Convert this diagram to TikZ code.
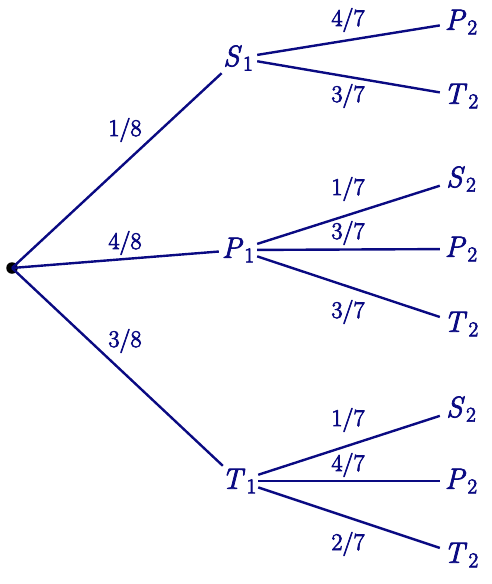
\documentclass[tikz,border=0pt]{standalone}
\definecolor{tree}{RGB}{10,10,130}
\newcommand\heavytext[1]{\special{pdf:literal direct 2 Tr 0.7 w}#1\special{pdf:literal direct 0 Tr}}
\newcommand\evt[2]{\heavytext{\itshape #1\/\kern1.5pt\raisebox{-4.5pt}{\upshape\fontsize{21}{21}\selectfont #2}}}
\newcommand\prb[1]{\heavytext{#1}}
\begin{document}
\begin{tikzpicture}[x=1pt,y=-1pt,
  st/.style={inner sep=0pt, minimum width=38pt, minimum height=30pt, text=tree, font=\fontsize{29.5}{32}\selectfont},
  lf/.style={st, minimum width=42pt},
  pr/.style={inner sep=0pt, text=tree, font=\fontsize{24}{27}\selectfont},
  br/.style={draw=tree, line width=2.4pt}]
\useasboundingbox (0,0) rectangle (492,584);
\node[circle, fill=black, inner sep=0pt, minimum size=11.5pt] (r) at (12,268) {};
\node[st] (S1) at (238,58) {\evt{S}{1}};
\node[st] (P1) at (238,250) {\evt{P}{1}};
\node[st] (T1) at (239,481) {\evt{T}{1}};
\node[lf] (a1) at (461,22) {\evt{P}{2}};
\node[lf] (a2) at (461,96) {\evt{T}{2}};
\node[lf] (b1) at (461,179) {\evt{S}{2}};
\node[lf] (b2) at (461,249) {\evt{P}{2}};
\node[lf] (b3) at (461,324) {\evt{T}{2}};
\node[lf] (c1) at (461,409) {\evt{S}{2}};
\node[lf] (c2) at (461,481) {\evt{P}{2}};
\node[lf] (c3) at (461,555) {\evt{T}{2}};
\draw[br] (r.center) -- (S1);
\draw[br] (r.center) -- (P1);
\draw[br] (r.center) -- (T1);
\draw[br] (S1) -- (a1);
\draw[br] (S1) -- (a2);
\draw[br] (P1) -- (b1);
\draw[br] (P1) -- (b2);
\draw[br] (P1) -- (b3);
\draw[br] (T1) -- (c1);
\draw[br] (T1) -- (c2);
\draw[br] (T1) -- (c3);
\node[pr] (l1) at (125,130) {\prb{1/8}};
\node[pr] (l2) at (125,243) {\prb{4/8}};
\node[pr] (l3) at (125,341) {\prb{3/8}};
\node[pr] (m1) at (348,20) {\prb{4/7}};
\node[pr] (m2) at (348,96) {\prb{3/7}};
\node[pr] (m3) at (348,189) {\prb{1/7}};
\node[pr] (m4) at (348,233) {\prb{3/7}};
\node[pr] (m5) at (348,312) {\prb{3/7}};
\node[pr] (m6) at (348,420) {\prb{1/7}};
\node[pr] (m7) at (348,465) {\prb{4/7}};
\node[pr] (m8) at (348,544) {\prb{2/7}};
\end{tikzpicture}
\end{document}
